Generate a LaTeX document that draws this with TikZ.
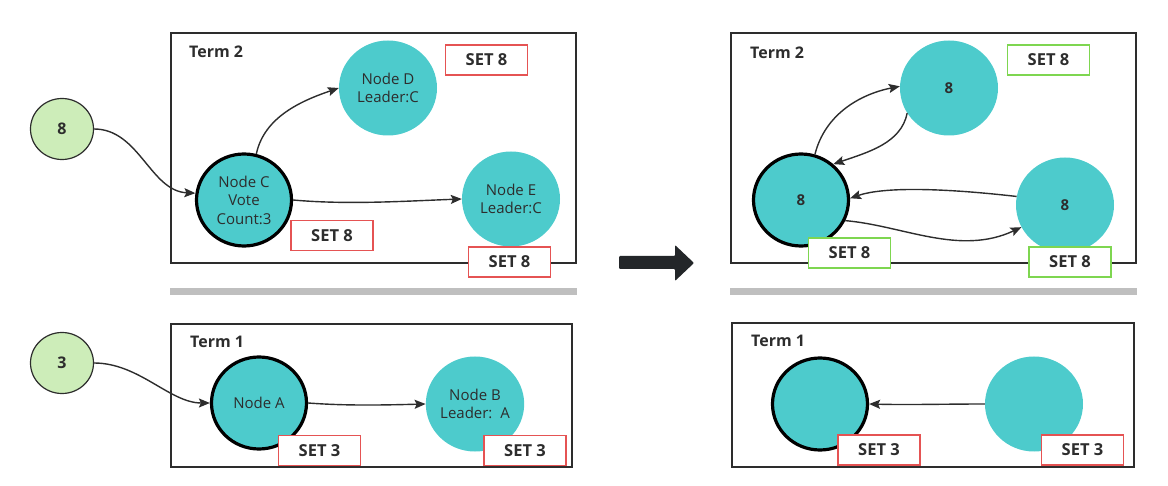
\documentclass[tikz,border=0pt]{standalone}
\usepackage{fontspec}
\setmainfont{Open Sans}
\usetikzlibrary{arrows.meta,shapes.geometric}
\definecolor{tealc}{RGB}{77,203,204}
\definecolor{greenf}{RGB}{205,237,185}
\definecolor{redc}{RGB}{229,83,83}
\definecolor{greenb}{RGB}{126,214,80}
\definecolor{txt}{RGB}{45,45,45}
\definecolor{barc}{RGB}{191,191,191}
\definecolor{bigc}{RGB}{35,38,41}
\begin{document}
\begin{tikzpicture}[x=1pt,y=-1pt,
  frame/.style={draw=txt, line width=1.1pt},
  term/.style={anchor=west, inner sep=0pt, text=txt, font=\bfseries\fontsize{16}{18}\selectfont},
  srv/.style={ellipse, fill=tealc, minimum width=98pt, minimum height=95pt, inner sep=0pt, align=center, text=txt, font=\fontsize{15}{18.5}\selectfont},
  lead/.style={srv, draw=black, line width=3.2pt, minimum width=95pt, minimum height=92pt},
  num/.style={font=\bfseries\fontsize{15}{18}\selectfont},
  client/.style={ellipse, draw=txt, fill=greenf, line width=1.2pt, minimum width=63pt, minimum height=61pt, inner sep=0pt, text=txt, font=\bfseries\fontsize{16}{18}\selectfont},
  setbox/.style={fill=white, line width=1.8pt, minimum width=82pt, minimum height=30pt, inner sep=0pt, text=txt, font=\bfseries\fontsize{16.5}{18}\selectfont},
  setr/.style={setbox, draw=redc},
  setg/.style={setbox, draw=greenb},
  conn/.style={draw=txt, line width=1.4pt, -{Stealth[length=11pt,width=9pt,inset=2pt]}},
  bar/.style={draw=barc, line width=7pt}]
\useasboundingbox (0,0) rectangle (1168,486);

% frames
\draw[frame] (171,33) rectangle (576,263);
\draw[frame] (171,324) rectangle (572,467);
\draw[frame] (731,33) rectangle (1136,263);
\draw[frame] (732,323) rectangle (1134,467);
\draw[bar] (170,292) -- (577,292);
\draw[bar] (730,292) -- (1137,292);

\node[term] (t2l) at (189,52) {Term 2};
\node[term] (t1l) at (190,342) {Term 1};
\node[term] (t2r) at (750,53) {Term 2};
\node[term] (t1r) at (751,341) {Term 1};

% left top
\node[client] (g8) at (62,129) {8};
\node[lead] (C) at (244,200) {Node C\\Vote\\Count:3};
\node[srv] (D) at (388,88) {Node D\\Leader:C};
\node[srv] (E) at (511,199) {Node E\\Leader:C};

% left bottom
\node[client] (g3) at (62,363) {3};
\node[lead] (A) at (259,403) {Node A};
\node[srv] (B) at (475,404) {Node B\\Leader:\ \ A};

% right top
\node[lead, num] (L) at (801,200) {8};
\node[srv, num] (T) at (949,88) {8};
\node[srv, num] (R) at (1065,205) {8};

% right bottom
\node[lead] (LB) at (820,404) {};
\node[srv] (RB) at (1034,404) {};

% connectors
\draw[conn] (g8.east) .. controls +(45,0) and +(-45,-2) .. (C.172);
\draw[conn] (C.75) .. controls +(8,-38) and +(-35,12) .. (D.180);
\draw[conn] (C.east) .. controls +(55,5) and +(-55,2) .. (E.180);
\draw[conn] (g3.east) .. controls +(45,0) and +(-40,0) .. (A.west);
\draw[conn] (A.east) .. controls +(40,3) and +(-40,1) .. (B.west);

\draw[conn] (L.73) .. controls +(10,-40) and +(-40,8) .. (T.178);
\draw[conn] (T.211) .. controls +(-6,30) and +(35,-12) .. (L.48);
\draw[conn] (R.170) .. controls +(-70,-8) and +(35,-12) .. (L.2);
\draw[conn] (L.335) .. controls +(58,5) and +(-62,29) .. (R.207);
\draw[conn] (RB.west) .. controls +(-40,0) and +(40,1) .. (LB.east);

% set boxes
\node[setr] (s1) at (486.5,60) {SET 8};
\node[setr] (s2) at (332,235.5) {SET 8};
\node[setr] (s3) at (509.5,262) {SET 8};
\node[setr] (s4) at (319.5,450.5) {SET 3};
\node[setr] (s5) at (525,450.5) {SET 3};
\node[setg] (s6) at (1048.5,60) {SET 8};
\node[setg] (s7) at (849.5,253) {SET 8};
\node[setg] (s8) at (1070,262) {SET 8};
\node[setr] (s9) at (879,450) {SET 3};
\node[setr] (s10) at (1082.5,450) {SET 3};

% big arrow
\fill[bigc, rounded corners=1pt] (619,256) -- (675,256) -- (675,245) -- (694,263) -- (675,281) -- (675,269) -- (619,269) -- cycle;
\end{tikzpicture}
\end{document}
